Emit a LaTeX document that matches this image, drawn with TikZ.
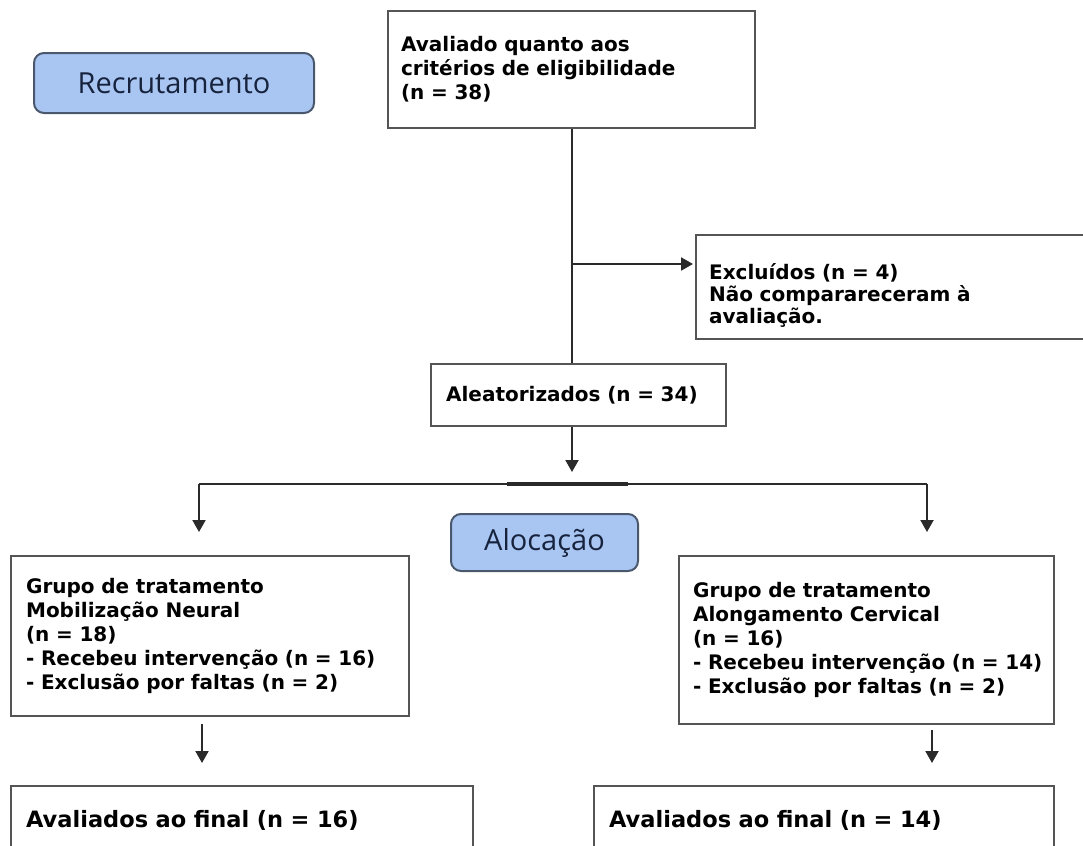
\documentclass[tikz,border=0pt]{standalone}
\usepackage{fontspec}
\usetikzlibrary{arrows.meta}
\newfontfamily\boxfont{DejaVu Sans}
\newfontfamily\labfont{Open Sans}
\definecolor{boxgray}{HTML}{555555}
\definecolor{linegray}{HTML}{2A2A2A}
\definecolor{phasefill}{HTML}{A9C6F3}
\definecolor{phaseedge}{HTML}{4A586E}
\definecolor{phasetext}{HTML}{17233D}
\tikzset{
  flowbox/.style={draw=boxgray, line width=2.2bp, fill=white, anchor=north west,
    align=left, inner ysep=0pt, text=black,
    font=\boxfont\bfseries\fontsize{20bp}{24bp}\selectfont},
  finalbox/.style={flowbox, font=\boxfont\bfseries\fontsize{22.5bp}{27bp}\selectfont},
  phasebox/.style={draw=phaseedge, line width=2bp, fill=phasefill, rounded corners=10bp,
    anchor=north west, text=phasetext, inner sep=0pt,
    font=\labfont\fontsize{29bp}{34bp}\selectfont},
  conn/.style={draw=linegray, line width=2bp},
  arr/.style={conn, -{Triangle[width=13bp,length=12bp]}}
}
\begin{document}
\begin{tikzpicture}[x=1bp,y=-1bp]
\clip (0,0) rectangle (1083,846);
\fill[white] (0,0) rectangle (1083,846);

% phase labels
\node[phasebox, minimum width=280bp, minimum height=60bp] (recr) at (33,52) {Recrutamento};
\node[phasebox, minimum width=187bp, minimum height=57bp] (aloc) at (450,513) {Alocação};

% boxes
\node[flowbox, inner xsep=13bp, text width=341bp, minimum height=117bp] (elig) at (387,10)
  {Avaliado quanto aos\\critérios de eligibilidade\\(n = 38)};
\node[flowbox, inner xsep=13bp, text width=394bp, minimum height=104bp,
  font=\boxfont\bfseries\fontsize{20bp}{22bp}\selectfont] (excl) at (695,234)
  {\rule{0pt}{32bp}Excluídos (n = 4)\\Não comparareceram à\\avaliação.};
\node[flowbox, inner xsep=15bp, text width=265bp, minimum height=62bp] (alea) at (430,363)
  {Aleatorizados (n = 34)};
\node[flowbox, inner xsep=15bp, text width=368bp, minimum height=160bp] (grpA) at (10,555)
  {Grupo de tratamento\\Mobilização Neural\\(n = 18)\\\mbox{- Recebeu intervenção (n = 16)}\\- Exclusão por faltas (n = 2)};
\node[flowbox, inner xsep=14bp, text width=347bp, minimum height=168bp] (grpB) at (678,555)
  {Grupo de tratamento\\Alongamento Cervical\\(n = 16)\\\mbox{- Recebeu intervenção (n = 14)}\\- Exclusão por faltas (n = 2)};
\node[finalbox, inner xsep=15bp, text width=432bp, minimum height=68bp] (finA) at (10,785)
  {Avaliados ao final (n = 16)};
\node[finalbox, inner xsep=15bp, text width=430bp, minimum height=68bp] (finB) at (593,785)
  {Avaliados ao final (n = 14)};

% connector helper points
\coordinate (trunk) at (572,0);
\coordinate (brk) at (572,264);
\coordinate (split) at (572,484);
\coordinate (splitL) at (199,484);
\coordinate (splitR) at (927,484);
\coordinate (finAx) at (202,0);
\coordinate (finBx) at (932,0);

% connectors
\draw[conn] (elig.south -| trunk) -- (alea.north -| trunk);
\draw[arr, shorten >=2bp] (brk) -- (brk -| excl.west);
\draw[arr, shorten >=12bp] (alea.south -| trunk) -- (split);
\draw[conn] (splitL) -- (splitR);
\draw[draw=linegray, line width=3.6bp] (507,484) -- (628,484);
\draw[arr, shorten >=23bp] (splitL) -- (splitL |- grpA.north);
\draw[arr, shorten >=23bp] (splitR) -- (splitR |- grpB.north);
\draw[arr, shorten <=7bp, shorten >=22bp] (grpA.south -| finAx) -- (finA.north -| finAx);
\draw[arr, shorten <=5bp, shorten >=22bp] (grpB.south -| finBx) -- (finB.north -| finBx);
\end{tikzpicture}
\end{document}
